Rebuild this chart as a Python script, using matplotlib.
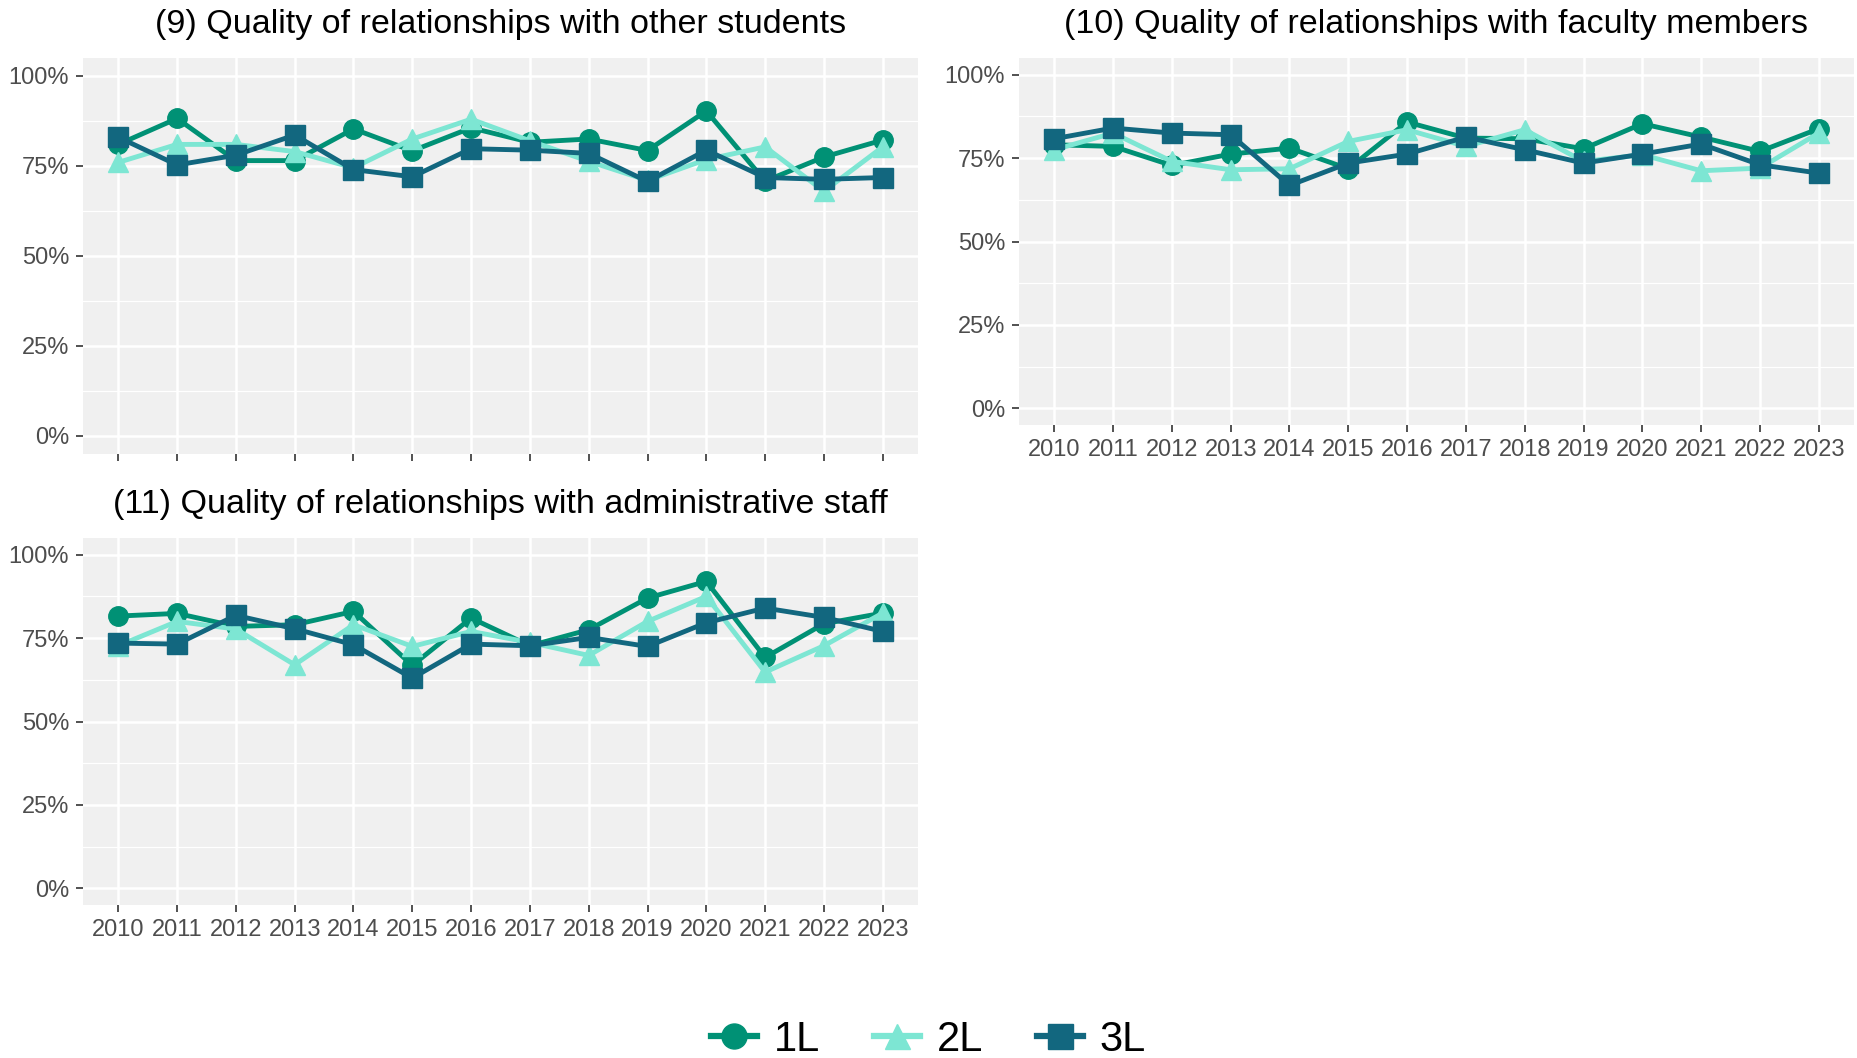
import numpy as np
import matplotlib
matplotlib.use("Agg")
import matplotlib.pyplot as plt
from matplotlib.lines import Line2D

plt.rcParams['font.family'] = ['Liberation Sans', 'DejaVu Sans']

# dados (percentual)
anos = ["2010", "2011", "2012", "2013", "2014", "2015", "2016",
        "2017", "2018", "2019", "2020", "2021", "2022", "2023"]
grupos = ["1L", "2L", "3L"]

estudantes_1L = [81, 88.2, 76.5, 76.5, 85.3, 79.2, 85.6, 81.6, 82.5, 79.3, 90.3, 70.8, 77.5, 82.2]
estudantes_2L = [76, 81, 81, 79, 74.5, 82.5, 88, 82, 76.3, 71, 76.8, 80.3, 68, 80.3]
estudantes_3L = [83, 75.3, 78, 83.6, 74, 72, 79.8, 79.4, 78.5, 70.7, 79.4, 71.8, 71.3, 71.8]

docentes_1L = [79, 78.5, 72.8, 76.2, 78, 71.8, 85.8, 81, 80.8, 77.8, 85.3, 81.3, 77, 83.8]
docentes_2L = [77.5, 82.5, 74, 71.5, 71.8, 80, 83.5, 78.5, 83.5, 74, 76, 71.2, 72, 82.5]
docentes_3L = [80.8, 84, 82.5, 82, 66.8, 73.5, 76.2, 81.3, 77.5, 73.5, 76.2, 79.2, 73, 70.5]

admin_1L = [81.6, 82.4, 78.5, 79, 83, 66.8, 81, 72.7, 77.5, 87, 92, 69.2, 79.3, 82.5]
admin_2L = [72.7, 80, 77.7, 67, 79, 72.5, 77, 73.7, 69.8, 80, 87.5, 64.8, 72.7, 82.5]
admin_3L = [73.5, 73.2, 81.8, 77.8, 73, 63, 73.2, 72.7, 75.2, 72.5, 79.6, 84, 81.2, 77]

titulos = ["(9) Quality of relationships with other students",
           "(10) Quality of relationships with faculty members",
           "(11) Quality of relationships with administrative staff"]

cores = {"1L": "#009175", "2L": "#7DE6D3", "3L": "#12677F"}
marcadores = {"1L": "o", "2L": "^", "3L": "s"}

W, H = 1857, 1058
fig = plt.figure(figsize=(W / 100, H / 100), dpi=100)


def caixa(l, r, t, b):
    return [l / W, 1 - b / H, (r - l) / W, (b - t) / H]


paineis = [
    (caixa(83, 918, 58, 454), [estudantes_1L, estudantes_2L, estudantes_3L], False, 24),
    (caixa(1019, 1854, 58, 425), [docentes_1L, docentes_2L, docentes_3L], True, 24),
    (caixa(83, 918, 538, 905), [admin_1L, admin_2L, admin_3L], True, 504),
]

x = np.arange(len(anos))
for (pos, series, rotulos_x, ytit), titulo in zip(paineis, titulos):
    ax = fig.add_axes(pos)
    ax.set_facecolor("#F0F0F0")
    for s in ax.spines.values():
        s.set_visible(False)
    for g, vals in zip(grupos, series):
        ax.plot(x, vals, color=cores[g], marker=marcadores[g], markersize=14,
                linewidth=3.5, zorder=3, clip_on=False)
    ax.set_xlim(-0.6, len(anos) - 0.4)
    ax.set_ylim(-5, 105)
    ax.set_yticks([0, 25, 50, 75, 100])
    ax.set_yticklabels(["0%", "25%", "50%", "75%", "100%"])
    ax.set_yticks([12.5, 37.5, 62.5, 87.5], minor=True)
    ax.set_xticks(x)
    ax.set_xticklabels(anos if rotulos_x else [])
    ax.grid(True, which="major", color="white", linewidth=1.8)
    ax.grid(True, which="minor", axis="y", color="white", linewidth=0.9)
    ax.set_axisbelow(True)
    ax.tick_params(axis="both", which="major", labelsize=17, labelcolor="#4D4D4D",
                   color="#333333", length=5, width=1.2, pad=5)
    ax.tick_params(which="minor", length=0)
    l, b, w, h = pos
    fig.text(l + w / 2, 1 - ytit / H, titulo, ha="center", va="center", fontsize=24.5)

handles = [Line2D([], [], color=cores[g], marker=marcadores[g], markersize=18,
                  linewidth=4.5) for g in grupos]
fig.legend(handles, grupos, loc="center", bbox_to_anchor=(0.5, 1 - 1040 / H),
           ncol=3, frameon=False, fontsize=30, handlelength=1.1,
           handletextpad=0.4, columnspacing=1.3)

fig.savefig("out.png", dpi=100)
